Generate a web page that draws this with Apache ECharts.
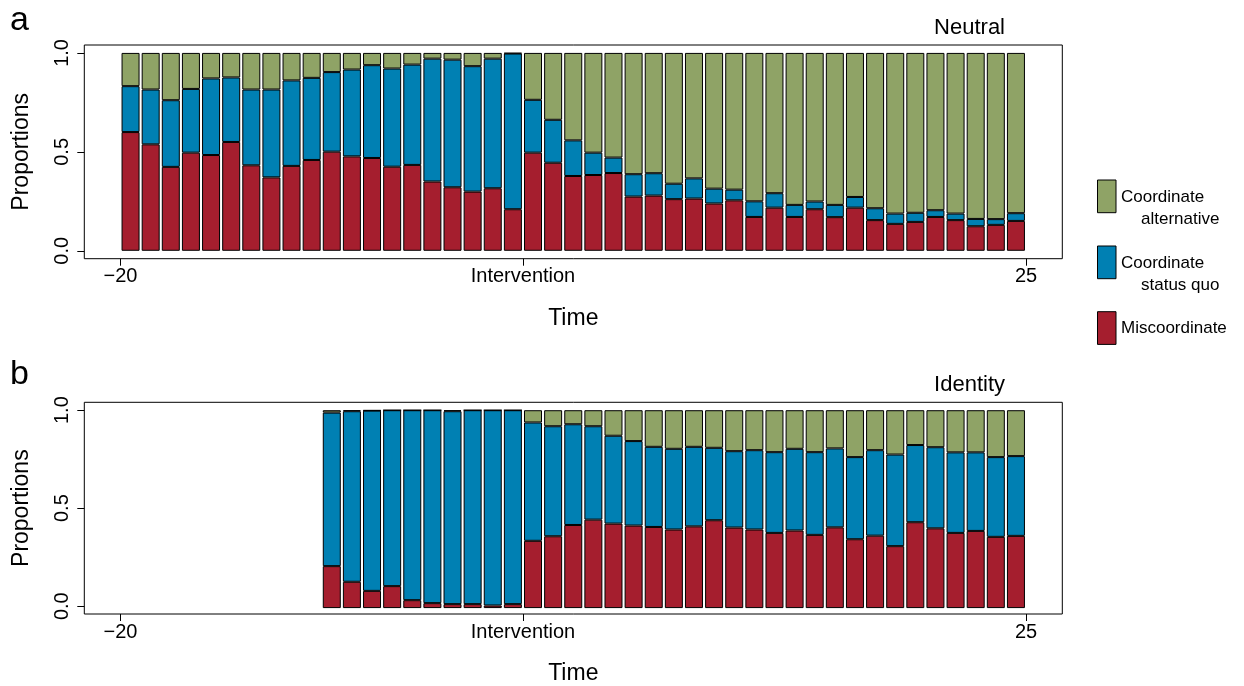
<!DOCTYPE html>
<html><head><meta charset="utf-8">
<script src="https://cdn.jsdelivr.net/npm/echarts@6/dist/echarts.min.js"></script>
<style>html,body{margin:0;padding:0;background:#fff}#c{width:1244px;height:686px}</style>
</head><body><div id="c"></div>
<script>
// Time bins (start of each one-period interval)
const timeStarts = [-20,-19,-18,-17,-16,-15,-14,-13,-12,-11,-10,-9,-8,-7,-6,-5,-4,-3,-2,-1,0,1,2,3,4,5,6,7,8,9,10,11,12,13,14,15,16,17,18,19,20,21,22,23,24];
const xTickValues = [-20, 0, 25];
const yTickValues = [0, 0.5, 1];
const panelTitles = ['Neutral', 'Identity'];
const panelLetters = ['a', 'b'];
const seriesNames = ['Miscoordinate', 'Coordinate status quo', 'Coordinate alternative'];

// Panel a: Neutral
const neutralMis = [0.600,0.538,0.424,0.496,0.484,0.550,0.432,0.371,0.429,0.459,0.501,0.477,0.469,0.425,0.434,0.350,0.321,0.299,0.316,0.210,
  0.496,0.445,0.378,0.383,0.393,0.274,0.279,0.261,0.264,0.239,0.255,0.171,0.218,0.171,0.210,0.170,0.218,0.155,0.136,0.146,0.171,0.155,0.124,0.131,0.151];
const neutralSQ = [0.232,0.277,0.337,0.322,0.387,0.326,0.383,0.444,0.432,0.415,0.402,0.439,0.469,0.496,0.507,0.621,0.645,0.634,0.655,0.787,
  0.267,0.217,0.180,0.113,0.078,0.113,0.113,0.078,0.102,0.075,0.054,0.079,0.073,0.061,0.039,0.062,0.054,0.060,0.052,0.046,0.034,0.033,0.037,0.029,0.039];
const neutralAlt = [0.168,0.185,0.239,0.182,0.129,0.124,0.185,0.185,0.139,0.126,0.097,0.084,0.062,0.079,0.059,0.029,0.034,0.067,0.029,0.003,
  0.237,0.338,0.442,0.504,0.529,0.613,0.608,0.661,0.634,0.686,0.691,0.750,0.709,0.768,0.751,0.768,0.728,0.785,0.812,0.808,0.795,0.812,0.839,0.840,0.810];

// Panel b: Identity (no data before t = -10)
const identityMis = [null,null,null,null,null,null,null,null,null,null,
  0.212,0.133,0.087,0.111,0.040,0.025,0.020,0.020,0.013,0.020,
  0.340,0.363,0.420,0.447,0.427,0.417,0.410,0.397,0.413,0.444,0.407,0.397,0.380,0.392,0.370,0.408,0.348,0.366,0.313,0.434,0.403,0.380,0.390,0.360,0.365];
const identitySQ = [null,null,null,null,null,null,null,null,null,null,
  0.776,0.862,0.911,0.889,0.960,0.975,0.975,0.980,0.987,0.980,
  0.598,0.556,0.509,0.472,0.444,0.427,0.405,0.408,0.402,0.366,0.386,0.401,0.408,0.413,0.418,0.399,0.415,0.432,0.463,0.390,0.410,0.407,0.397,0.403,0.403];
const identityAlt = [null,null,null,null,null,null,null,null,null,null,
  0.012,0.005,0.002,0,0,0,0.005,0,0,0,
  0.062,0.081,0.071,0.081,0.129,0.156,0.185,0.195,0.185,0.190,0.207,0.202,0.212,0.195,0.212,0.193,0.237,0.202,0.224,0.176,0.187,0.213,0.213,0.237,0.232];

const colors = ['#A51E2E', '#0080B3', '#8FA366'];
const FONT = 'Liberation Sans, Arial, Helvetica, sans-serif';

const panels = [[neutralMis, neutralSQ, neutralAlt], [identityMis, identitySQ, identityAlt]];
const gridTops = [45, 402.3];
const GRID_H = 213.7;

function xFmt(v) { return v === 0 ? 'Intervention' : (v < 0 ? '\u2212' + Math.abs(v) : String(v)); }

const grids = [], xAxes = [], yAxes = [], series = [], titles = [];
panels.forEach((p, k) => {
  // frame grid (index 2k): box, ticks, labels, axis names
  grids.push({ left: 84.3, right: 181.7, top: gridTops[k], height: GRID_H, show: true, borderColor: '#000', borderWidth: 1 });
  // bar grid (index 2k+1): spans exactly t = -20 .. 25
  grids.push({ left: 120.5, right: 218, top: gridTops[k], height: GRID_H, show: false });
  xAxes.push({
    type: 'value', gridIndex: 2 * k, min: -21.8, max: 26.8,
    axisLine: { show: false, onZero: false }, splitLine: { show: false },
    axisTick: { show: true, customValues: xTickValues, length: 7, lineStyle: { color: '#000', width: 1 } },
    axisLabel: { customValues: xTickValues, formatter: xFmt, fontSize: 20, color: '#000', margin: 8, fontFamily: FONT },
    name: 'Time', nameLocation: 'middle', nameGap: 48,
    nameTextStyle: { fontSize: 23, color: '#000', fontFamily: FONT }
  });
  xAxes.push({
    type: 'category', gridIndex: 2 * k + 1, data: timeStarts.map(String), boundaryGap: true,
    axisLine: { show: false }, axisTick: { show: false }, axisLabel: { show: false }, splitLine: { show: false }
  });
  yAxes.push({
    type: 'value', gridIndex: 2 * k, min: -0.04, max: 1.04,
    axisLine: { show: false, onZero: false }, splitLine: { show: false },
    axisTick: { show: true, customValues: yTickValues, length: 7, lineStyle: { color: '#000', width: 1 } },
    axisLabel: { customValues: yTickValues, formatter: v => v.toFixed(1), rotate: 90, fontSize: 20, color: '#000', margin: 12, fontFamily: FONT },
    name: 'Proportions', nameLocation: 'middle', nameGap: 51,
    nameTextStyle: { fontSize: 23, color: '#000', fontFamily: FONT }
  });
  yAxes.push({
    type: 'value', gridIndex: 2 * k + 1, min: -0.04, max: 1.04,
    axisLine: { show: false, onZero: false }, axisTick: { show: false }, axisLabel: { show: false }, splitLine: { show: false }
  });
  p.forEach((arr, j) => {
    series.push({
      type: 'bar', name: seriesNames[j], xAxisIndex: 2 * k + 1, yAxisIndex: 2 * k + 1, stack: 'panel' + k,
      barWidth: 18, silent: true, animation: false,
      itemStyle: { color: colors[j], borderColor: '#000', borderWidth: 1 },
      data: arr
    });
  });
  titles.push({ text: panelTitles[k], right: 239, top: 17 + (gridTops[k] - 45), padding: 0,
    textStyle: { fontSize: 22, fontWeight: 'normal', color: '#000', fontFamily: FONT } });
});

const graphics = [];
panelLetters.forEach((l, k) => {
  graphics.push({ type: 'text', left: 10, top: 4 + (gridTops[k] - 45) * 0.99,
    style: { text: l, fill: '#000', font: '34px ' + FONT } });
});
// legend (top to bottom: alternative, status quo, miscoordinate)
const legendItems = [
  { color: colors[2], lines: ['Coordinate', 'alternative'], y: 180 },
  { color: colors[1], lines: ['Coordinate', 'status quo'], y: 246 },
  { color: colors[0], lines: ['Miscoordinate'], y: 311.7 }
];
legendItems.forEach(it => {
  graphics.push({ type: 'rect', shape: { x: 1097.5, y: it.y, width: 18.5, height: 32.7 },
    style: { fill: it.color, stroke: '#000', lineWidth: 1 } });
  graphics.push({ type: 'text', x: 1121, y: it.y + 17, style: { text: it.lines[0], font: '17px ' + FONT, fill: '#000', verticalAlign: 'middle', align: 'left' } });
  if (it.lines[1]) graphics.push({ type: 'text', x: 1141, y: it.y + 39, style: { text: it.lines[1], font: '17px ' + FONT, fill: '#000', verticalAlign: 'middle', align: 'left' } });
});

const chart = echarts.init(document.getElementById('c'), null, { renderer: 'canvas' });
chart.setOption({
  animation: false,
  backgroundColor: '#fff',
  title: titles,
  grid: grids, xAxis: xAxes, yAxis: yAxes, series: series,
  graphic: graphics
});
</script></body></html>
